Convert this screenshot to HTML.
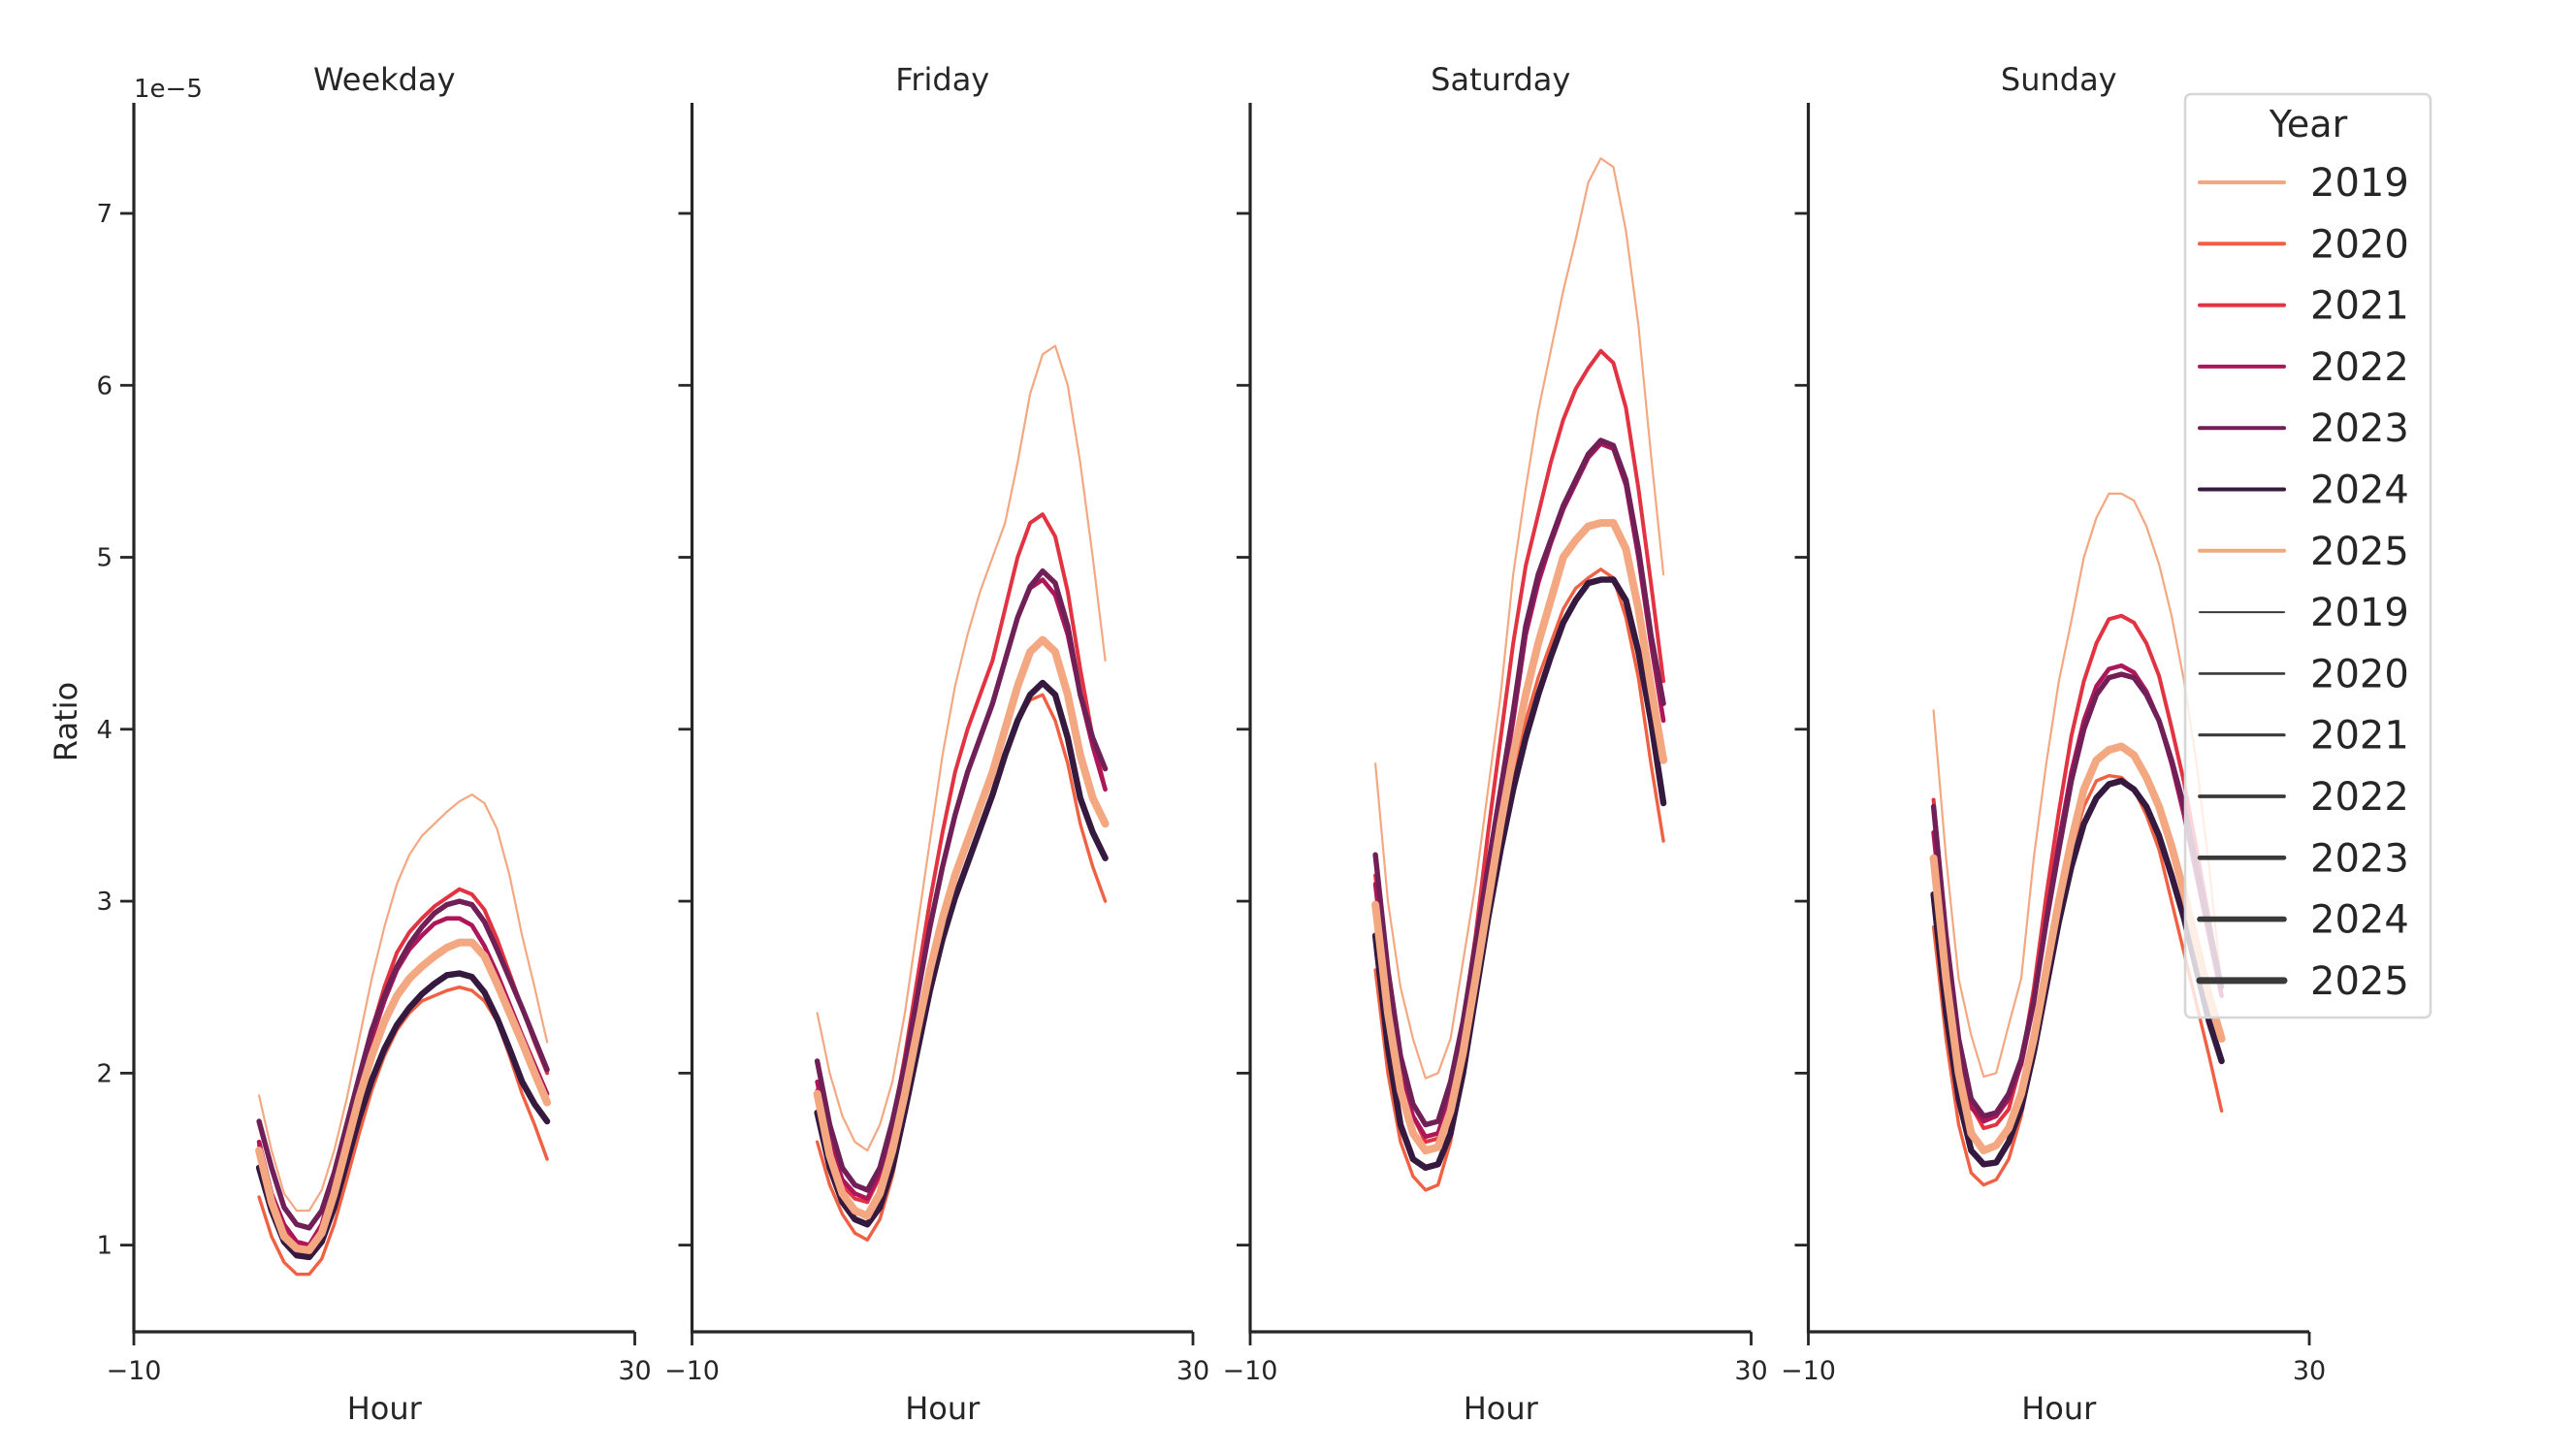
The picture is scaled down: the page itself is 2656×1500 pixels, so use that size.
<!DOCTYPE html>
<html><head><meta charset="utf-8"><style>
html,body{margin:0;padding:0;background:#fff;}
svg{display:block;font-family:"DejaVu Sans","Liberation Sans",sans-serif;}
</style></head><body>
<svg id="chart" width="2656" height="1500" viewBox="0 0 2656 1500" xmlns="http://www.w3.org/2000/svg"></svg>
<script>
const years = ["2019","2020","2021","2022","2023","2024","2025"];
const panels = ["Weekday","Friday","Saturday","Sunday"];
const hours = [0,1,2,3,4,5,6,7,8,9,10,11,12,13,14,15,16,17,18,19,20,21,22,23];
const yTicks = [1,2,3,4,5,6,7];
const xTicks = [-10,30];
// values ×1e-5
const weekday2019 = [1.87,1.55,1.3,1.2,1.2,1.32,1.55,1.85,2.2,2.55,2.85,3.1,3.27,3.38,3.45,3.52,3.58,3.62,3.57,3.42,3.15,2.8,2.5,2.18];
const weekday2020 = [1.28,1.05,0.9,0.83,0.83,0.92,1.12,1.38,1.65,1.9,2.1,2.25,2.35,2.42,2.45,2.48,2.5,2.48,2.42,2.3,2.1,1.88,1.7,1.5];
const weekday2021 = [1.58,1.3,1.1,1.0,0.98,1.1,1.35,1.65,1.95,2.25,2.5,2.7,2.82,2.9,2.97,3.02,3.07,3.04,2.95,2.78,2.58,2.38,2.18,2.0];
const weekday2022 = [1.6,1.3,1.12,1.02,1.0,1.12,1.38,1.66,1.95,2.2,2.42,2.6,2.72,2.8,2.87,2.9,2.9,2.86,2.74,2.58,2.4,2.22,2.05,1.88];
const weekday2023 = [1.72,1.45,1.22,1.12,1.1,1.2,1.42,1.7,1.98,2.25,2.45,2.62,2.75,2.85,2.93,2.98,3.0,2.98,2.88,2.72,2.55,2.38,2.2,2.02];
const weekday2024 = [1.45,1.2,1.02,0.94,0.93,1.02,1.22,1.48,1.74,1.96,2.14,2.28,2.38,2.46,2.52,2.57,2.58,2.56,2.47,2.32,2.14,1.95,1.82,1.72];
const weekday2025 = [1.55,1.25,1.05,0.98,0.97,1.07,1.3,1.58,1.86,2.1,2.3,2.45,2.55,2.62,2.68,2.73,2.76,2.76,2.68,2.52,2.35,2.18,2.0,1.83];
const friday2019 = [2.35,2.0,1.75,1.6,1.55,1.7,1.95,2.35,2.85,3.35,3.85,4.25,4.55,4.8,5.0,5.2,5.55,5.95,6.18,6.23,6.0,5.55,5.0,4.4];
const friday2020 = [1.6,1.35,1.18,1.07,1.03,1.15,1.4,1.75,2.1,2.45,2.75,3.0,3.2,3.4,3.6,3.85,4.05,4.17,4.2,4.05,3.8,3.45,3.2,3.0];
const friday2021 = [1.9,1.55,1.35,1.27,1.25,1.4,1.7,2.1,2.55,3.0,3.4,3.75,4.0,4.2,4.4,4.7,5.0,5.2,5.25,5.12,4.8,4.35,3.95,3.65];
const friday2022 = [1.95,1.6,1.38,1.3,1.27,1.42,1.7,2.05,2.45,2.85,3.2,3.5,3.75,3.95,4.15,4.4,4.65,4.82,4.87,4.78,4.55,4.2,3.9,3.65];
const friday2023 = [2.07,1.7,1.45,1.35,1.32,1.45,1.72,2.05,2.45,2.85,3.2,3.5,3.75,3.95,4.15,4.4,4.65,4.83,4.92,4.85,4.6,4.2,3.95,3.77];
const friday2024 = [1.77,1.45,1.25,1.15,1.12,1.22,1.45,1.78,2.13,2.48,2.78,3.02,3.22,3.42,3.62,3.85,4.05,4.2,4.27,4.2,3.95,3.6,3.4,3.25];
const friday2025 = [1.88,1.52,1.3,1.2,1.17,1.3,1.55,1.88,2.25,2.6,2.9,3.15,3.35,3.55,3.75,4.0,4.25,4.45,4.52,4.45,4.2,3.85,3.6,3.45];
const saturday2019 = [3.8,3.0,2.5,2.2,1.97,2.0,2.2,2.65,3.1,3.65,4.2,4.9,5.4,5.85,6.2,6.55,6.85,7.18,7.32,7.27,6.9,6.35,5.6,4.9];
const saturday2020 = [2.6,2.0,1.6,1.4,1.32,1.35,1.6,2.0,2.45,2.9,3.35,3.75,4.05,4.3,4.5,4.7,4.82,4.88,4.93,4.88,4.65,4.3,3.8,3.35];
const saturday2021 = [3.15,2.5,2.0,1.75,1.6,1.62,1.85,2.3,2.8,3.4,3.95,4.5,4.95,5.25,5.55,5.8,5.98,6.1,6.2,6.13,5.87,5.4,4.85,4.28];
const saturday2022 = [3.1,2.45,1.98,1.75,1.63,1.65,1.88,2.25,2.7,3.15,3.6,4.05,4.55,4.85,5.08,5.28,5.43,5.58,5.66,5.63,5.42,5.0,4.5,4.05];
const saturday2023 = [3.27,2.6,2.1,1.82,1.7,1.72,1.95,2.3,2.75,3.2,3.65,4.1,4.6,4.9,5.1,5.3,5.45,5.6,5.68,5.65,5.45,5.05,4.55,4.15];
const saturday2024 = [2.8,2.15,1.7,1.5,1.45,1.47,1.65,2.0,2.45,2.9,3.3,3.65,3.95,4.2,4.42,4.62,4.75,4.85,4.87,4.87,4.75,4.45,4.05,3.57];
const saturday2025 = [2.98,2.35,1.9,1.65,1.55,1.57,1.78,2.12,2.55,3.0,3.45,3.85,4.2,4.5,4.75,5.0,5.1,5.18,5.2,5.2,5.05,4.7,4.25,3.82];
const sunday2019 = [4.11,3.25,2.55,2.22,1.98,2.0,2.28,2.55,3.25,3.8,4.28,4.63,5.0,5.23,5.37,5.37,5.33,5.18,4.96,4.66,4.28,3.8,3.2,2.5];
const sunday2020 = [2.85,2.2,1.7,1.42,1.35,1.38,1.5,1.75,2.1,2.55,2.95,3.3,3.55,3.7,3.73,3.72,3.65,3.5,3.3,3.0,2.7,2.4,2.1,1.78];
const sunday2021 = [3.59,2.82,2.17,1.81,1.68,1.7,1.79,2.06,2.49,3.03,3.52,3.96,4.28,4.5,4.64,4.66,4.62,4.5,4.31,4.01,3.69,3.3,2.9,2.45];
const sunday2022 = [3.4,2.7,2.1,1.8,1.72,1.75,1.85,2.05,2.4,2.9,3.35,3.75,4.05,4.25,4.35,4.37,4.33,4.22,4.05,3.8,3.5,3.15,2.8,2.45];
const sunday2023 = [3.55,2.8,2.2,1.85,1.75,1.77,1.88,2.08,2.42,2.88,3.3,3.7,4.0,4.2,4.3,4.32,4.3,4.2,4.05,3.82,3.55,3.2,2.85,2.5];
const sunday2024 = [3.04,2.35,1.85,1.55,1.47,1.48,1.6,1.8,2.12,2.5,2.88,3.2,3.45,3.6,3.68,3.7,3.65,3.55,3.38,3.15,2.9,2.6,2.3,2.07];
const sunday2025 = [3.25,2.55,2.0,1.65,1.55,1.58,1.68,1.88,2.2,2.6,3.0,3.35,3.65,3.82,3.88,3.9,3.85,3.72,3.55,3.32,3.05,2.75,2.45,2.2];
const seriesByPanel = [
 [weekday2019,weekday2020,weekday2021,weekday2022,weekday2023,weekday2024,weekday2025],
 [friday2019,friday2020,friday2021,friday2022,friday2023,friday2024,friday2025],
 [saturday2019,saturday2020,saturday2021,saturday2022,saturday2023,saturday2024,saturday2025],
 [sunday2019,sunday2020,sunday2021,sunday2022,sunday2023,sunday2024,sunday2025]
];

const colors = ["#f4a882","#f06043","#e13342","#ad1759","#701f57","#35193e","#f4a882"];
const widths = [2.2,3.4,4.0,4.6,5.4,6.4,8.0];
const NS="http://www.w3.org/2000/svg";
const svg=document.getElementById('chart');
function mk(tag,attrs,parent){const e=document.createElementNS(NS,tag);for(const k in attrs)e.setAttribute(k,attrs[k]);(parent||svg).appendChild(e);return e;}
const panelW=516.5, panelStep=575.5, x0=138;
const yTop=106, yBot=1373;
function yScale(v){return 1283.6-(v-1)*177.27;}
function xScale(p,h){return x0+p*panelStep+(h+10)/40*panelW;}
const axCol="#262626";

panels.forEach((name,p)=>{
  const g=mk('g',{});
  
  
  const left=x0+p*panelStep;
  seriesByPanel[p].forEach((vals,si)=>{
    const d=vals.map((v,i)=>(i?'L':'M')+xScale(p,hours[i]).toFixed(1)+','+yScale(v).toFixed(1)).join(' ');
    const path=mk('path',{d:d,fill:'none',stroke:colors[si],'stroke-width':widths[si],'stroke-linejoin':'round','stroke-linecap':'round'},g);
    
    
  });
  const ys=mk('line',{x1:left,y1:yTop,x2:left,y2:yBot+1.5,stroke:axCol,'stroke-width':3.2},g);
  
  
  const xs=mk('line',{x1:left-1.5,y1:yBot,x2:left+panelW,y2:yBot,stroke:axCol,'stroke-width':3.2},g);
  
  
  yTicks.forEach(t=>{
    const y=yScale(t);
    const tk=mk('line',{x1:left-14,y1:y,x2:left,y2:y,stroke:axCol,'stroke-width':2.8},g);
    
    
    if(p===0){
      const tl=mk('text',{x:left-22,y:y+9,'text-anchor':'end','font-size':26,fill:axCol},g);
      tl.textContent=String(t);
      
      
    }
  });
  xTicks.forEach(t=>{
    const x=xScale(p,t);
    const tk=mk('line',{x1:x,y1:yBot,x2:x,y2:yBot+14,stroke:axCol,'stroke-width':2.8},g);
    
    
    const tl=mk('text',{x:x,y:1422,'text-anchor':'middle','font-size':27,fill:axCol},g);
    tl.textContent=t<0?'\u2212'+Math.abs(t):String(t);
    
    
  });
  const xl=mk('text',{x:left+panelW/2,y:1463,'text-anchor':'middle','font-size':32,fill:axCol},g);
  xl.textContent='Hour';
  
  
  const tt=mk('text',{x:left+panelW/2,y:93,'text-anchor':'middle','font-size':32,fill:axCol},g);
  tt.textContent=name;
  
  
});
const off=mk('text',{x:138,y:100,'font-size':26,fill:axCol});
off.textContent='1e\u22125';


const yl=mk('text',{x:0,y:0,'text-anchor':'middle','font-size':32,fill:axCol,transform:'translate(79,744) rotate(-90)'});
yl.textContent='Ratio';



const lg=mk('g',{});


const box=mk('rect',{x:2253,y:97,width:253,height:952,rx:6,fill:'#fff','fill-opacity':0.8,stroke:'#d6d6d6','stroke-width':2.5},lg);


const lt=mk('text',{x:2380,y:141,'text-anchor':'middle','font-size':38,fill:axCol},lg);
lt.textContent='Year';


const legWidths=[2.0,2.6,3.2,3.8,4.6,5.6,7.0];
for(let i=0;i<14;i++){
  const y=188+i*63.3;
  const yi=i%7;
  const e=mk('g',{},lg);
  
  
  mk('line',{x1:2268,y1:y,x2:2355,y2:y,stroke:i<7?colors[yi]:'#3a3a3a','stroke-width':i<7?4:legWidths[yi],'stroke-linecap':'round'},e);
  const t=mk('text',{x:2382,y:y+14,'font-size':40,fill:axCol},e);
  t.textContent=years[yi];
}
</script>
</body></html>
